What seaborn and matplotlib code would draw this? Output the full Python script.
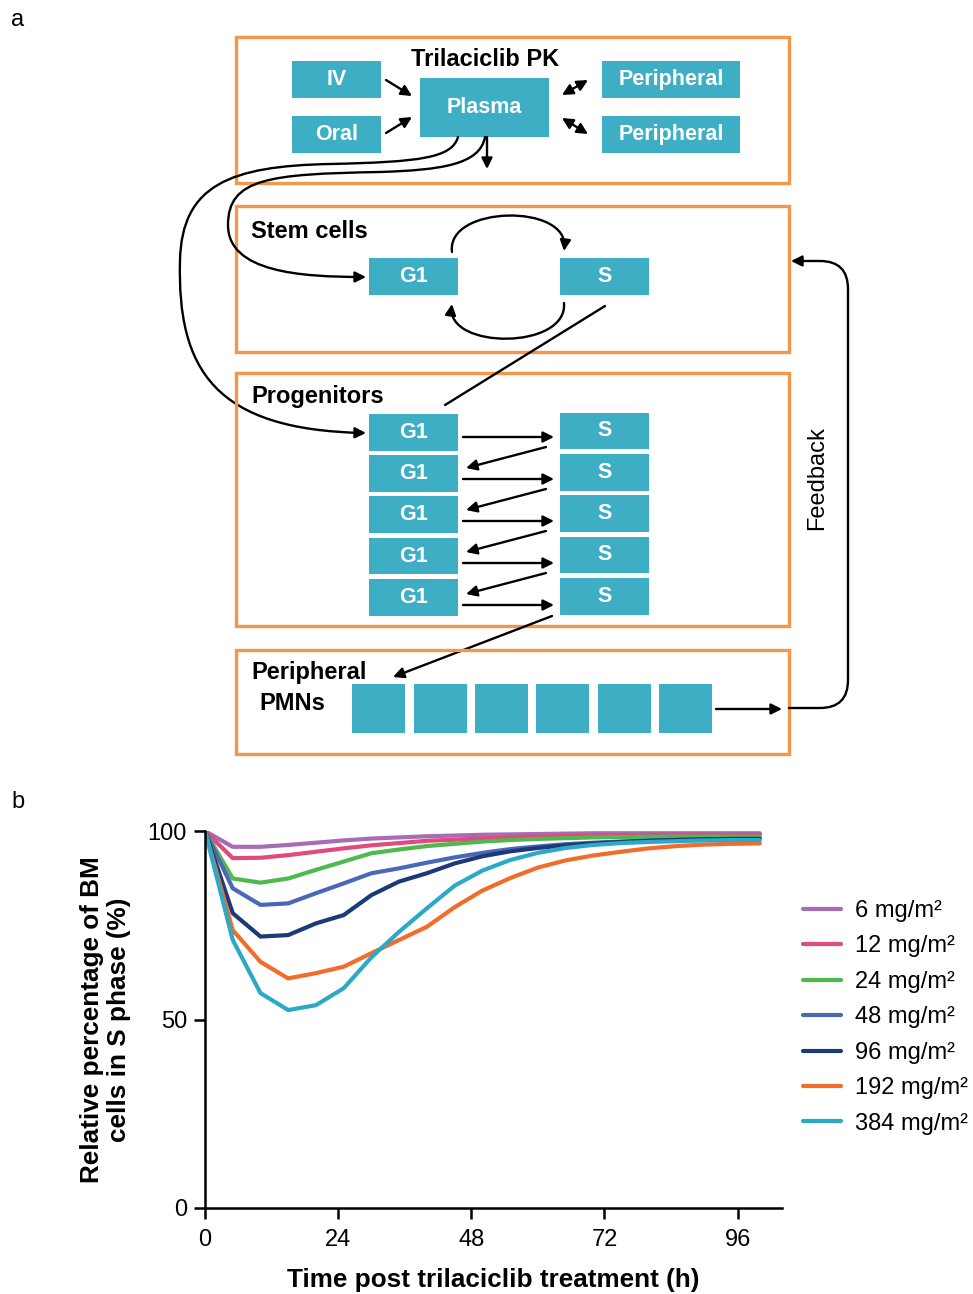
import numpy as np
import pandas as pd
import matplotlib
matplotlib.use("Agg")
import matplotlib.pyplot as plt
import seaborn as sns
from matplotlib.patches import Rectangle, FancyArrowPatch, PathPatch
from matplotlib.path import Path

# ---------------- data (panel b) ----------------
time_h = [0, 5, 10, 15, 20, 25, 30, 35, 40, 45, 50, 55, 60, 65, 70, 75, 80, 85, 90, 95, 100]
dose_labels = ["6 mg/m²", "12 mg/m²", "24 mg/m²", "48 mg/m²", "96 mg/m²", "192 mg/m²", "384 mg/m²"]
dose6 = [100, 95.8, 95.8, 96.3, 96.9, 97.5, 98.0, 98.3, 98.6, 98.8, 99.0, 99.1, 99.2, 99.3, 99.4, 99.4, 99.4, 99.4, 99.4, 99.4, 99.4]
dose12 = [100, 92.8, 92.9, 93.6, 94.5, 95.4, 96.2, 96.8, 97.4, 97.7, 98.0, 98.3, 98.5, 98.7, 98.8, 98.9, 99.0, 99.0, 99.0, 99.0, 99.0]
dose24 = [100, 87.4, 86.3, 87.4, 89.7, 91.9, 94.1, 95.1, 96.0, 96.6, 97.2, 97.6, 97.9, 98.1, 98.3, 98.4, 98.5, 98.5, 98.5, 98.5, 98.5]
dose48 = [100, 84.8, 80.4, 80.8, 83.5, 86.1, 88.8, 90.1, 91.6, 93.0, 94.2, 95.2, 95.9, 96.5, 96.9, 97.2, 97.5, 97.7, 97.8, 97.9, 97.9]
dose96 = [100, 78.2, 72.0, 72.4, 75.5, 77.7, 83.0, 86.6, 88.8, 91.4, 93.3, 94.6, 95.5, 96.2, 96.7, 97.1, 97.4, 97.6, 97.8, 97.9, 97.9]
dose192 = [100, 73.7, 65.3, 60.9, 62.3, 64.0, 67.6, 71.1, 74.6, 79.8, 84.2, 87.5, 90.3, 92.2, 93.5, 94.5, 95.4, 96.0, 96.4, 96.6, 96.7]
dose384 = [100, 71.1, 57.0, 52.5, 53.8, 58.3, 66.5, 73.3, 79.5, 85.5, 89.5, 92.3, 94.2, 95.5, 96.3, 96.8, 97.1, 97.3, 97.5, 97.6, 97.6]
x_ticks = [0, 24, 48, 72, 96]
y_ticks = [0, 50, 100]

colors = ["#a66db5", "#e04a7c", "#4fb84f", "#4a68b6", "#1d3a78", "#f26c2b", "#2ba9c7"]
series = [dose6, dose12, dose24, dose48, dose96, dose192, dose384]

df = pd.concat([pd.DataFrame({"time": time_h, "value": s, "dose": lab})
                for s, lab in zip(series, dose_labels)], ignore_index=True)

sns.set_theme(style="ticks")
plt.rcParams["font.family"] = ["Liberation Sans", "DejaVu Sans"]
plt.rcParams["text.color"] = "black"
plt.rcParams["axes.labelcolor"] = "black"

W, H = 973, 1294
fig = plt.figure(figsize=(W / 100, H / 100), dpi=100)

# ---------------- panel a (diagram) ----------------
ad = fig.add_axes([0, 0, 1, 1])
ad.set_xlim(0, W)
ad.set_ylim(H, 0)
ad.axis("off")
ad.patch.set_alpha(0)

TEAL = "#3eaec4"
ORANGE = "#f5964f"
FS_H = 17
FS_B = 15.5
FS_L = 18.8
LW = 1.7
MS = 16


def obox(x0, y0, x1, y1):
    ad.add_patch(Rectangle((x0, y0), x1 - x0, y1 - y0, fill=False, ec=ORANGE, lw=2.4))


def tbox(x0, y0, x1, y1, label=None):
    ad.add_patch(Rectangle((x0, y0), x1 - x0, y1 - y0, fc=TEAL, ec="none"))
    if label:
        ad.text((x0 + x1) / 2, (y0 + y1) / 2, label, color="white", fontsize=FS_B,
                fontweight="bold", ha="center", va="center")


def arrow(p0, p1, style="-|>"):
    ad.add_patch(FancyArrowPatch(p0, p1, arrowstyle=style, mutation_scale=MS, lw=LW,
                                 color="black", shrinkA=0, shrinkB=0))


def curve(verts, codes, head=True):
    p = Path(verts, codes)
    if head:
        ad.add_patch(FancyArrowPatch(path=p, arrowstyle="-|>", mutation_scale=MS, lw=LW,
                                     color="black"))
    else:
        ad.add_patch(PathPatch(p, fill=False, lw=LW, ec="black"))


ad.text(18, 20, "a", fontsize=FS_H, ha="center", va="center")
ad.text(18, 802, "b", fontsize=FS_H, ha="center", va="center")

# box 1 : PK
obox(236, 37, 789, 183)
ad.text(485, 60, "Trilaciclib PK", fontsize=FS_H, fontweight="bold", ha="center", va="center")
tbox(292, 61, 381, 98, "IV")
tbox(292, 116, 381, 153, "Oral")
tbox(420, 78, 549, 137, "Plasma")
tbox(602, 61, 740, 98, "Peripheral")
tbox(602, 116, 740, 153, "Peripheral")
arrow((386, 80), (412, 96))
arrow((386, 133), (412, 117))
arrow((562, 95), (588, 80), "<|-|>")
arrow((562, 118), (588, 134), "<|-|>")
arrow((487, 137), (487, 169))

# box 2 : stem cells
obox(236, 206, 789, 352)
ad.text(251, 231, "Stem cells", fontsize=FS_H, fontweight="bold", ha="left", va="center")
tbox(369, 258, 458, 295, "G1")
tbox(560, 258, 649, 295, "S")
C4 = [Path.MOVETO, Path.CURVE4, Path.CURVE4, Path.CURVE4]
curve([(452, 252), (446, 205), (570, 203), (564, 251)], C4)
curve([(564, 303), (568, 350), (446, 350), (452, 304)], C4)
ad.plot([605, 445], [306, 405], color="black", lw=LW)

# curves from plasma
C10 = [Path.MOVETO] + [Path.CURVE4] * 9
curve([(458, 137), (452, 158), (420, 162), (330, 164),
       (230, 166), (182, 185), (180, 260),
       (177, 370), (215, 430), (366, 433)], C10)
curve([(485, 137), (480, 165), (440, 170), (380, 172),
       (270, 174), (228, 178), (228, 225),
       (228, 272), (300, 277), (366, 277)], C10)

# box 3 : progenitors
obox(236, 373, 789, 626)
ad.text(251, 396, "Progenitors", fontsize=FS_H, fontweight="bold", ha="left", va="center")
g1_rows = [(414, 451), (455, 492), (496, 533), (538, 574), (579, 616)]
s_rows = [(413, 449), (454, 491), (495, 532), (537, 573), (578, 615)]
for (a0, a1), (b0, b1) in zip(g1_rows, s_rows):
    tbox(369, a0, 458, a1, "G1")
    tbox(560, b0, 649, b1, "S")
for yy in [437, 479, 521, 563, 605]:
    arrow((463, yy), (554, yy))
for y0 in [447, 489, 531, 573]:
    arrow((546, y0), (466, y0 + 21))
arrow((552, 616), (393, 677))

# box 4 : PMNs
obox(236, 650, 789, 754)
ad.text(251, 672, "Peripheral", fontsize=FS_H, fontweight="bold", ha="left", va="center")
ad.text(259, 703, "PMNs", fontsize=FS_H, fontweight="bold", ha="left", va="center")
for x0 in [352, 414, 475, 536, 598, 659]:
    tbox(x0, 684, x0 + 53, 733)
arrow((716, 709), (782, 709))

# feedback
fb = [(789, 708), (820, 708), (848, 708), (848, 680), (848, 289),
      (848, 261), (820, 261), (791, 261)]
fbc = [Path.MOVETO, Path.LINETO, Path.CURVE3, Path.CURVE3, Path.LINETO,
       Path.CURVE3, Path.CURVE3, Path.LINETO]
curve(fb, fbc)
ad.text(817, 478, "Feedback", fontsize=FS_H, rotation=90, ha="center", va="center")

# ---------------- panel b (chart) ----------------
ax = fig.add_axes([205 / W, 1 - 1208 / H, (782 - 205) / W, (1208 - 831) / H])
sns.lineplot(data=df, x="time", y="value", hue="dose", hue_order=dose_labels,
             palette=dict(zip(dose_labels, colors)), linewidth=3, ax=ax)
ax.set_xlim(0, 104)
ax.set_ylim(0, 100)
ax.set_xticks(x_ticks)
ax.set_yticks(y_ticks)
ax.tick_params(axis="both", labelsize=FS_H, length=8, width=1.8, color="black",
               labelcolor="black", direction="out")
ax.tick_params(axis="y", pad=5)
ax.tick_params(axis="x", pad=7)
for sp in ["top", "right"]:
    ax.spines[sp].set_visible(False)
for sp in ["left", "bottom"]:
    ax.spines[sp].set_linewidth(1.8)
    ax.spines[sp].set_color("black")
ax.set_xlabel("Time post trilaciclib treatment (h)", fontsize=FS_L, fontweight="bold",
              labelpad=12, color="black")
ax.set_ylabel("Relative percentage of BM\ncells in S phase (%)", fontsize=FS_L,
              fontweight="bold", labelpad=12, linespacing=1.15, color="black")
ax.patch.set_alpha(0)

handles, labels = ax.get_legend_handles_labels()
leg = ax.legend(handles, labels, loc="upper left", bbox_to_anchor=(803 / W, 1 - 900 / H),
                bbox_transform=fig.transFigure, frameon=False, fontsize=FS_H,
                handlelength=1.6, handletextpad=0.6, labelspacing=0.57, borderpad=0,
                borderaxespad=0)
for t in leg.get_texts():
    t.set_color("black")

fig.savefig("out.png", dpi=100)
